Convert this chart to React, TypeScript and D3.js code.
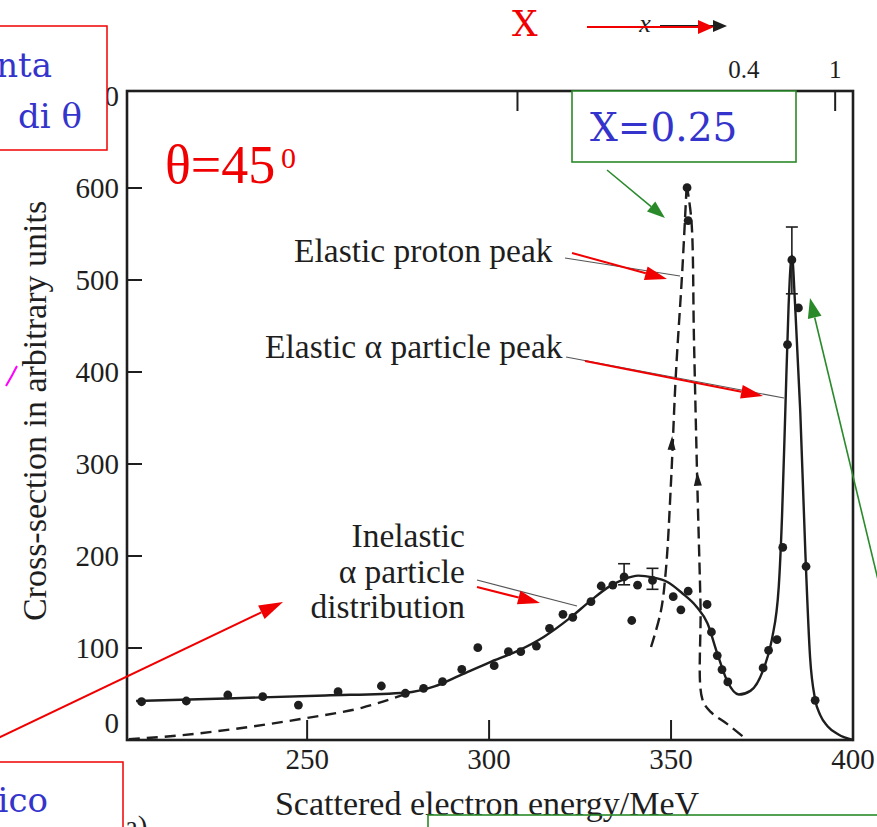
import React from 'react';
import * as d3 from 'd3';

const W = 877;
const H = 827;

// axes
const energyDomain: [number, number] = [200.5, 400];
const sigmaDomain: [number, number] = [0, 700];
const xTickValues = [250, 300, 350, 400];
const xInnerTicks = [250, 300, 350];
const yTickValues = [0, 100, 200, 300, 400, 500, 600, 700];
const yInnerTicks = [100, 200, 300, 400, 500, 600];
const topTickEnergy = [307.8, 370, 395.1];
const topTickLabel = ['', '0.4', '1'];
const topTickDrawn = [true, false, true];

// measured points (energy MeV, cross-section)
const dotEnergy = [204.5, 216.8, 228.2, 237.8, 247.6, 258.5, 270.4, 277, 282, 287.2, 292.5, 296.9, 301.4, 305.3, 308.7, 313, 316.6, 320.3, 323, 328, 330.8, 334, 337.1, 339.2, 340.8, 344.9, 350.6, 352.7, 354.7, 359.9, 361.1, 362.7, 364, 365.6, 375.3, 376.8, 379.1, 380.7, 382, 383.2, 385, 387.1, 389.6, 354.4, 354.7];
const dotSigma = [41.6, 42.4, 48.9, 47.1, 38, 52.5, 58.7, 50.8, 56.2, 63.4, 76.8, 100.3, 80.8, 96, 96, 102.1, 121.4, 136.6, 133.3, 150.3, 167.4, 168.4, 177.2, 129.9, 168.3, 173.4, 155.8, 141.5, 161.8, 147.3, 117.4, 91.8, 76.5, 63.1, 78.3, 97.5, 109.1, 209.3, 429.8, 521.8, 469.6, 188.6, 43.1, 600.4, 564.6];

// error bars
const errEnergy = [337.1, 344.9, 383.2];
const errLow = [168.7, 163.8, 485];
const errHigh = [191.6, 186.6, 557.6];

// solid fitted curve (inelastic + elastic alpha)
const solidEnergy = [203, 230, 255, 277, 285, 292, 300, 308, 315, 322, 328, 333, 337, 341, 345, 349, 353, 357, 360, 362.7, 365.4, 368.6, 371.8, 375.5, 377.7, 379.6, 380.5, 381.4, 382.3, 383.2, 384.1, 385.5, 386.9, 388.2, 389.6, 391, 393, 396, 400];
const solidSigma = [42.4, 45.4, 48.4, 51.4, 58.3, 70.3, 84.2, 97.1, 112, 131.9, 151.8, 166.7, 174.7, 178.7, 176.7, 171.7, 159.8, 144.9, 126.9, 94.1, 64.3, 49.4, 53.4, 78.2, 109.1, 166.7, 243.3, 357.7, 472.1, 526.8, 472.1, 357.7, 204.5, 90.2, 44, 27, 15, 6, 0];

// dashed: inelastic extrapolation to low energy
const dashLowEnergy = [201, 215, 230, 250, 265, 277];
const dashLowSigma = [1, 5, 12, 24, 35, 50];

// dashed: elastic proton peak
const protonEnergy = [344.5, 347.2, 348.6, 350, 351.3, 353.1, 354.3, 355.6, 356.3, 357.2, 358.1, 358.6, 360.9, 365.4, 370.9];
const protonSigma = [101.1, 139.9, 185.6, 281.1, 395.5, 510.9, 603.4, 564.6, 435.3, 281.1, 146.8, 44.4, 30.5, 17.5, 0];

// small arrowheads drawn on the proton-peak dashed line
const arrowMarkEnergy = [350.3, 357.2];
const arrowMarkSigma = [324, 285];
const arrowMarkTilt = [0.05, -0.05];

const SERIF = '"Liberation Serif", "Times New Roman", serif';
const BOOK = '"DejaVu Serif", serif';
const INK = '#1e1e1e';
const RED = '#f00000';
const GREEN = '#2a8a2a';
const BLUE = '#3434cc';

function headPts(x1: number, y1: number, x2: number, y2: number, L: number, w: number) {
  const a = Math.atan2(y2 - y1, x2 - x1);
  const bx = x2 - L * Math.cos(a);
  const by = y2 - L * Math.sin(a);
  const px = (w / 2) * Math.cos(a + Math.PI / 2);
  const py = (w / 2) * Math.sin(a + Math.PI / 2);
  return { pts: `${x2},${y2} ${bx + px},${by + py} ${bx - px},${by - py}`, bx, by };
}

function Arrow({ x1, y1, x2, y2, color, L = 22, w = 14, sw = 2 }: any) {
  const h = headPts(x1, y1, x2, y2, L, w);
  return (
    <g>
      <line x1={x1} y1={y1} x2={h.bx} y2={h.by} stroke={color} strokeWidth={sw} />
      <polygon points={h.pts} fill={color} />
    </g>
  );
}

export default function App() {
  const left = 127, right = 853, top = 91, bottom = 740;
  const x = d3.scaleLinear().domain(energyDomain).range([left, right]);
  const y = d3.scaleLinear().domain(sigmaDomain).range([740, 96]);

  const line = d3.line<[number, number]>().x(d => x(d[0])).y(d => y(d[1])).curve(d3.curveMonotoneX);
  const solid = line(solidEnergy.map((e, i) => [e, solidSigma[i]]));
  const dashLow = line(dashLowEnergy.map((e, i) => [e, dashLowSigma[i]]));
  const protonLeft = protonEnergy.slice(0, 7).map((e, i) => [e, protonSigma[i]] as [number, number]);
  const protonRight = protonEnergy.slice(6).map((e, i) => [e, protonSigma[i + 6]] as [number, number]);
  const lineCR = d3.line<[number, number]>().x(d => x(d[0])).y(d => y(d[1])).curve(d3.curveCatmullRom.alpha(0.5));

  const plotFont = 33.5;

  return (
    <svg width={W} height={H} viewBox={`0 0 ${W} ${H}`}
      style={{ position: 'absolute', left: 0, top: 0, background: '#fff' }}>
      <rect x={0} y={0} width={W} height={H} fill="#fff" />

      {/* y tick labels */}
      {yTickValues.map(v => (
        <text key={'yl' + v} x={119} y={Math.min(y(v) + 10, 733)} textAnchor="end" fontFamily={SERIF} fontSize={29} fill={INK}>{v}</text>
      ))}
      {/* x tick labels */}
      {xTickValues.map(v => (
        <text key={'xl' + v} x={x(v)} y={769} textAnchor="middle" fontFamily={SERIF} fontSize={29} fill={INK}>{v}</text>
      ))}
      {/* top tick labels */}
      {topTickEnergy.map((e, i) => (
        <text key={'tl' + i} x={x(e)} y={78} textAnchor="middle" fontFamily={SERIF} fontSize={25} fill={INK}>{topTickLabel[i]}</text>
      ))}

      {/* frame */}
      <rect x={left} y={top} width={right - left} height={bottom - top} fill="none" stroke={INK} strokeWidth={2.6} />
      {yInnerTicks.map(v => (
        <line key={'yt' + v} x1={left} x2={left + 15} y1={y(v)} y2={y(v)} stroke={INK} strokeWidth={2} />
      ))}
      {xInnerTicks.map(v => (
        <line key={'xt' + v} x1={x(v)} x2={x(v)} y1={bottom} y2={bottom - 20} stroke={INK} strokeWidth={2} />
      ))}
      {topTickEnergy.map((e, i) => topTickDrawn[i] ? (
        <line key={'tt' + i} x1={x(e)} x2={x(e)} y1={top} y2={top + 20} stroke={INK} strokeWidth={2} />
      ) : null)}

      {/* axis titles */}
      <text x={487} y={815} textAnchor="middle" fontFamily={SERIF} fontSize={34} fill={INK}>Scattered electron energy/MeV</text>
      <text transform="translate(46,411) rotate(-90)" textAnchor="middle" fontFamily={SERIF} fontSize={34} fill={INK}>Cross-section in arbitrary units</text>
      <text x={125} y={836} fontFamily={SERIF} fontSize={29} fill={INK}>a)</text>

      {/* curves */}
      <path d={dashLow || ''} fill="none" stroke={INK} strokeWidth={2.4} strokeDasharray="11 7" />
      <path d={lineCR(protonLeft) || ''} fill="none" stroke={INK} strokeWidth={2.4} strokeDasharray="12 6" />
      <path d={lineCR(protonRight) || ''} fill="none" stroke={INK} strokeWidth={2.4} strokeDasharray="12 6" />
      <path d={solid || ''} fill="none" stroke={INK} strokeWidth={2.4} />

      {arrowMarkEnergy.map((e, i) => {
        const cx = x(e), cy = y(arrowMarkSigma[i]);
        const t = arrowMarkTilt[i];
        const h = headPts(cx - t * 30, cy + 30, cx, cy - 6, 14, 8);
        return <polygon key={'am' + i} points={h.pts} fill={INK} />;
      })}

      {/* dots */}
      {dotEnergy.map((e, i) => (
        <circle key={'d' + i} cx={x(e)} cy={y(dotSigma[i])} r={4.4} fill={INK} />
      ))}
      {/* error bars */}
      {errEnergy.map((e, i) => (
        <g key={'eb' + i} stroke={INK} strokeWidth={1.6}>
          <line x1={x(e)} x2={x(e)} y1={y(errLow[i])} y2={y(errHigh[i])} />
          <line x1={x(e) - 6} x2={x(e) + 6} y1={y(errLow[i])} y2={y(errLow[i])} />
          <line x1={x(e) - 6} x2={x(e) + 6} y1={y(errHigh[i])} y2={y(errHigh[i])} />
        </g>
      ))}

      {/* original labels with leader lines */}
      <text x={294} y={262} fontFamily={SERIF} fontSize={plotFont} fill={INK}>Elastic proton peak</text>
      <line x1={565} y1={258} x2={680} y2={276} stroke="#555" strokeWidth={1.2} />
      <text x={265} y={358} fontFamily={SERIF} fontSize={plotFont} fill={INK}>Elastic α particle peak</text>
      <line x1={566} y1={357} x2={784} y2={398} stroke="#555" strokeWidth={1.2} />
      <text x={465} y={547} textAnchor="end" fontFamily={SERIF} fontSize={plotFont} fill={INK}>Inelastic</text>
      <text x={465} y={583} textAnchor="end" fontFamily={SERIF} fontSize={plotFont} fill={INK}>α particle</text>
      <text x={465} y={618} textAnchor="end" fontFamily={SERIF} fontSize={plotFont} fill={INK}>distribution</text>
      <line x1={477} y1={580} x2={577} y2={606} stroke="#555" strokeWidth={1.2} />

      {/* top x label */}
      <text x={645} y={32} textAnchor="middle" fontFamily={SERIF} fontStyle="italic" fontSize={26} fill={INK}>x</text>
      <Arrow x1={660} y1={26} x2={727} y2={26} color={INK} L={14} w={12} sw={2.2} />

      {/* overlay annotations */}
      <rect x={-5} y={26} width={112} height={124} fill="#fff" stroke={RED} strokeWidth={1.5} />
      <text x={52} y={77} textAnchor="end" fontFamily={BOOK} fontSize={34} fill={BLUE}>nta</text>
      <text x={82} y={128} textAnchor="end" fontFamily={BOOK} fontSize={34} fill={BLUE}>di θ</text>

      <text x={165} y={183} fontFamily={SERIF} fontSize={54} fill={RED}>θ=45</text>
      <text x={281} y={168} fontFamily={SERIF} fontSize={30} fill={RED}>0</text>

      <text x={512} y={36} fontFamily={BOOK} fontSize={36} fill={RED}>X</text>
      <Arrow x1={587} y1={27} x2={714} y2={27} color={RED} L={16} w={14} sw={2} />

      <rect x={572} y={91} width={224} height={71} fill="#fff" stroke={GREEN} strokeWidth={1.6} />
      <text x={590} y={141} fontFamily={BOOK} fontSize={39} fill={BLUE}>X=0.25</text>

      <Arrow x1={607} y1={170} x2={665} y2={218} color={GREEN} L={18} w={13} sw={1.6} />
      <Arrow x1={880} y1={588} x2={810} y2={298} color={GREEN} L={20} w={14} sw={1.6} />

      <Arrow x1={572} y1={253} x2={667} y2={279} color={RED} L={22} w={14} sw={2} />
      <Arrow x1={585} y1={361} x2={763} y2={396} color={RED} L={22} w={14} sw={2} />
      <Arrow x1={477} y1={587} x2={540} y2={603} color={RED} L={22} w={14} sw={2} />
      <Arrow x1={-10} y1={742} x2={283} y2={602} color={RED} L={24} w={15} sw={2} />

      <path d="M6,386 Q12,376 17,366" fill="none" stroke="#ff00ff" strokeWidth={2} />

      <rect x={-5} y={762} width={128} height={80} fill="#fff" stroke={RED} strokeWidth={1.5} />
      <text x={48} y={812} textAnchor="end" fontFamily={BOOK} fontSize={34} fill={BLUE}>ico</text>

      <rect x={428} y={815} width={460} height={40} fill="none" stroke={GREEN} strokeWidth={1.6} />
    </svg>
  );
}
